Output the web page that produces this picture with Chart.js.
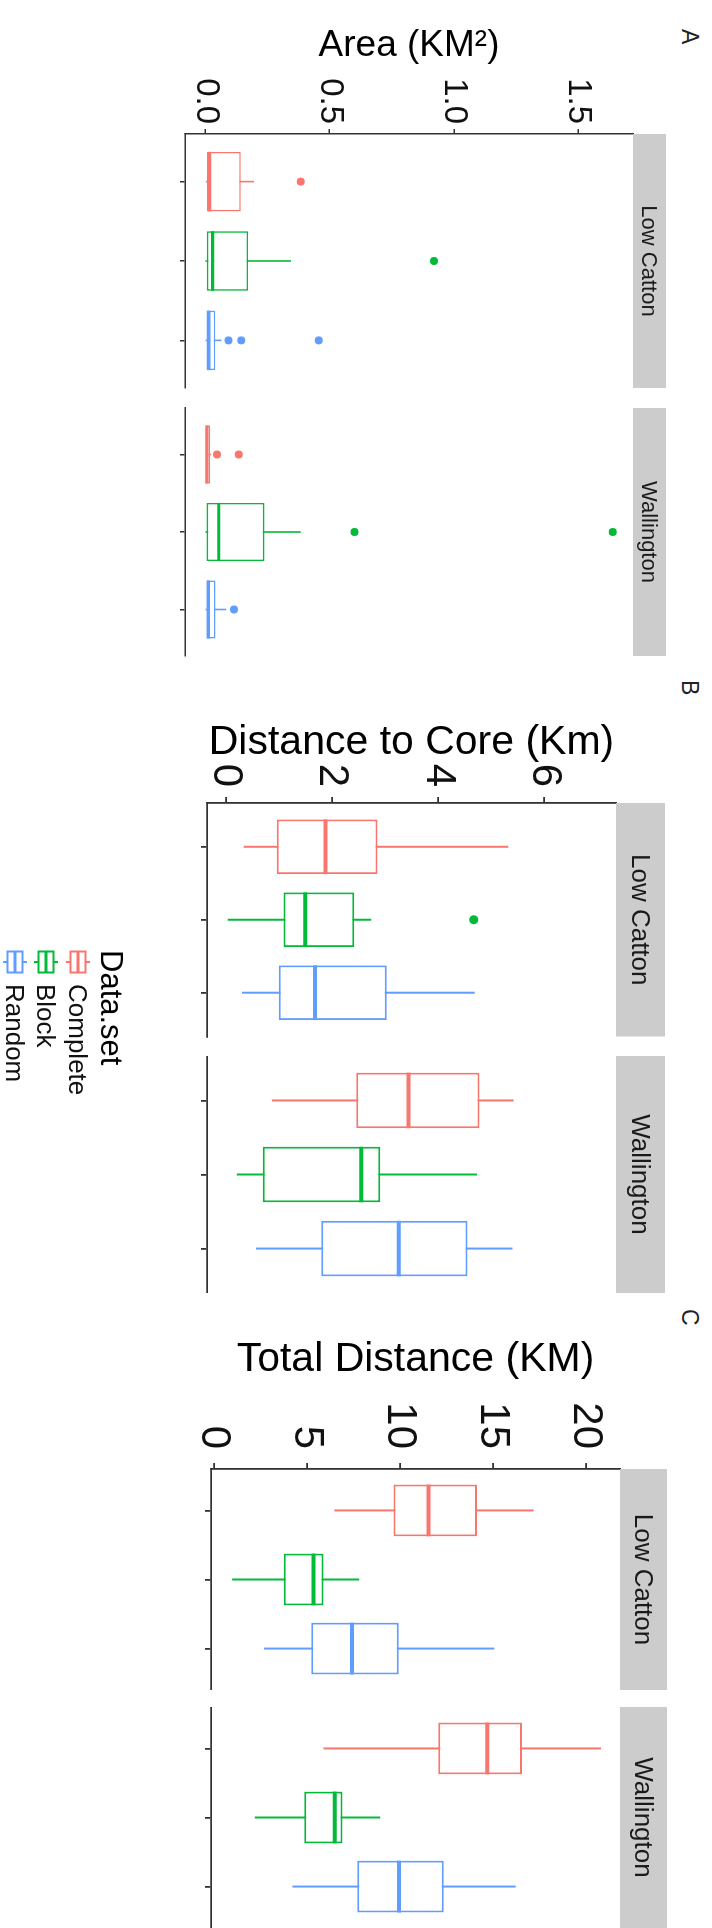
<!DOCTYPE html>
<html>
<head>
<meta charset="utf-8">
<script src="https://cdn.jsdelivr.net/npm/chart.js@4.4.0/dist/chart.umd.min.js"></script>
<style>
  html, body { margin: 0; padding: 0; background: #fff; overflow: hidden; }
  body { width: 712px; height: 1928px; position: relative; }
  /* the figure is laid out the usual way and then turned a quarter clockwise */
  #figure {
    position: absolute; left: 0; top: 0; width: 1928px; height: 712px;
    transform-origin: 0 0; transform: translate(712px, 0) rotate(90deg);
    font-family: 'Liberation Sans', Arial, sans-serif; background: #fff;
  }
  #figure canvas.plot { position: absolute; top: 0; }
  .tag { position: absolute; top: 11px; font-size: 23px; line-height: 1; color: #222; }
  .legend-title { position: absolute; left: 950px; top: 585px; font-size: 31px; line-height: 1; color: #000; }
  .legend-row { position: absolute; left: 948px; height: 32px; display: flex; align-items: center; }
  .legend-row span { font-size: 26px; line-height: 32px; color: #111; margin-left: 8px; white-space: nowrap; }
  .legend-row canvas { display: block; }
</style>
</head>
<body>
<div id="figure"></div>
<script>
const groups = ['Complete', 'Block', 'Random'];
const sites = ['Low Catton', 'Wallington'];
const colours = ['#F8766D', '#00BA38', '#619CFF'];

// Area (KM²): one row per site, one column per data set
const areaLow      = [[0.001, 0.000, 0.000], [0.000, 0.000, 0.000]];
const areaQ1       = [[0.006, 0.005, 0.004], [0.001, 0.004, 0.004]];
const areaMedian   = [[0.016, 0.028, 0.013], [0.005, 0.053, 0.011]];
const areaQ3       = [[0.142, 0.171, 0.039], [0.018, 0.237, 0.040]];
const areaHigh     = [[0.195, 0.344, 0.064], [0.022, 0.383, 0.083]];
const areaOutliers = [[[0.383], [0.92], [0.092, 0.144, 0.456]], [[0.046, 0.134], [0.60, 1.64], [0.114]]];
const areaRange = [-0.083, 1.722];
const areaTicks = [0, 0.5, 1.0, 1.5];
const areaTickLabels = ['0.0', '0.5', '1.0', '1.5'];

// Distance to core (Km)
const coreLow      = [[0.34, 0.04, 0.31], [0.87, 0.21, 0.57]];
const coreQ1       = [[0.96, 1.09, 1.00], [2.46, 0.70, 1.80]];
const coreMedian   = [[1.88, 1.50, 1.68], [3.44, 2.55, 3.26]];
const coreQ3       = [[2.86, 2.42, 3.03], [4.78, 2.91, 4.55]];
const coreHigh     = [[5.32, 2.74, 4.69], [5.42, 4.73, 5.40]];
const coreOutliers = [[[], [4.67], []], [[], [], []]];
const coreRange = [-0.351, 7.347];
const coreTicks = [0, 2, 4, 6];
const coreTickLabels = ['0', '2', '4', '6'];

// Total distance (KM)
const totalLow      = [[6.47, 0.98, 2.69], [5.89, 2.20, 4.22]];
const totalQ1       = [[9.65, 3.76, 5.23], [12.06, 4.86, 7.70]];
const totalMedian   = [[11.53, 5.35, 7.42], [14.70, 6.50, 9.95]];
const totalQ3       = [[14.14, 5.89, 9.94], [16.56, 6.91, 12.35]];
const totalHigh     = [[17.19, 7.81, 15.07], [20.81, 8.94, 16.22]];
const totalOutliers = [[[], [], []], [[], [], []]];
const totalRange = [-0.156, 21.83];
const totalTicks = [0, 5, 10, 15, 20];
const totalTickLabels = ['0', '5', '10', '15', '20'];

Chart.defaults.font.family = "'Liberation Sans', Arial, sans-serif";

const panels = [
  { tag: 'A', tagLeft: 29, title: 'Area (KM²)', titleSize: 37, titlePad: 24, tickSize: 33, tickPad: 5, tick: 5,
    stripSize: 22, stripH: 33, top: 79, bottom: 527, lw: 1.6, axisW: 1.5, dot: 4,
    facets: [{ left: 0, width: 392, axis: 134 }, { left: 404, width: 256, axis: 0 }],
    low: areaLow, q1: areaQ1, median: areaMedian, q3: areaQ3, high: areaHigh, outliers: areaOutliers,
    range: areaRange, ticks: areaTicks, labels: areaTickLabels },
  { tag: 'B', tagLeft: 680, title: 'Distance to Core (Km)', titleSize: 41, titlePad: 18, tickSize: 42, tickPad: 10, tick: 6,
    stripSize: 26, stripH: 49, top: 96, bottom: 505, lw: 2, axisW: 1.8, dot: 4.5,
    facets: [{ left: 700, width: 341, axis: 103 }, { left: 1056, width: 237, axis: 0 }],
    low: coreLow, q1: coreQ1, median: coreMedian, q3: coreQ3, high: coreHigh, outliers: coreOutliers,
    range: coreRange, ticks: coreTicks, labels: coreTickLabels },
  { tag: 'C', tagLeft: 1309, title: 'Total Distance (KM)', titleSize: 41, titlePad: 15, tickSize: 42, tickPad: 14, tick: 6,
    stripSize: 26, stripH: 47, top: 92, bottom: 501, lw: 2, axisW: 1.8, dot: 4.5,
    facets: [{ left: 1320, width: 370, axis: 149 }, { left: 1707, width: 221, axis: 0 }],
    low: totalLow, q1: totalQ1, median: totalMedian, q3: totalQ3, high: totalHigh, outliers: totalOutliers,
    range: totalRange, ticks: totalTicks, labels: totalTickLabels }
];

const figure = document.getElementById('figure');
const H = 712;
const xAxisH = 12;

// grey facet strip above each panel
const stripPlugin = {
  id: 'strip',
  afterDraw(chart, args, opts) {
    const { ctx, chartArea: a } = chart;
    ctx.save();
    ctx.fillStyle = '#cccccc';
    ctx.fillRect(a.left, a.top - opts.h, a.right - a.left, opts.h);
    ctx.fillStyle = '#1a1a1a';
    ctx.font = opts.size + "px 'Liberation Sans', Arial, sans-serif";
    ctx.textAlign = 'center';
    ctx.textBaseline = 'middle';
    ctx.fillText(opts.text, (a.left + a.right) / 2, a.top - opts.h / 2 + 1);
    ctx.restore();
  }
};

function facetDatasets(p, s) {
  const ds = [];
  groups.forEach((g, i) => {
    ds.push({
      type: 'line', order: 4,
      data: [{ x: i + 1, y: p.low[s][i] }, { x: i + 1, y: p.high[s][i] }],
      borderColor: colours[i], borderWidth: p.lw, pointRadius: 0, fill: false
    });
  });
  ds.push({
    type: 'bar', order: 3,
    data: groups.map((g, i) => ({ x: i + 1, y: [p.q1[s][i], p.q3[s][i]] })),
    backgroundColor: '#ffffff', borderColor: colours, borderWidth: p.lw,
    borderSkipped: false, barPercentage: 0.75, categoryPercentage: 1
  });
  groups.forEach((g, i) => {
    ds.push({
      type: 'line', order: 2,
      data: [{ x: i + 1 - 0.375, y: p.median[s][i] }, { x: i + 1 + 0.375, y: p.median[s][i] }],
      borderColor: colours[i], borderWidth: p.lw * 2, pointRadius: 0, fill: false
    });
  });
  const pts = [], ptCols = [];
  groups.forEach((g, i) => {
    p.outliers[s][i].forEach(v => { pts.push({ x: i + 1, y: v }); ptCols.push(colours[i]); });
  });
  ds.push({
    type: 'scatter', order: 1, data: pts,
    pointBackgroundColor: ptCols, pointBorderColor: ptCols, pointBorderWidth: 0, pointRadius: p.dot
  });
  return ds;
}

panels.forEach(p => {
  const tag = document.createElement('div');
  tag.className = 'tag';
  tag.style.left = p.tagLeft + 'px';
  tag.textContent = p.tag;
  figure.appendChild(tag);

  p.facets.forEach((f, s) => {
    const canvas = document.createElement('canvas');
    canvas.className = 'plot';
    canvas.width = f.width;
    canvas.height = H;
    canvas.style.left = f.left + 'px';
    figure.appendChild(canvas);

    const showAxis = f.axis > 0;
    new Chart(canvas, {
      type: 'bar',
      data: { datasets: facetDatasets(p, s) },
      options: {
        responsive: false,
        animation: false,
        events: [],
        layout: { padding: { top: p.top, bottom: H - p.bottom - xAxisH, left: 0, right: 0 } },
        plugins: {
          legend: { display: false },
          tooltip: { enabled: false },
          strip: { h: p.stripH, size: p.stripSize, text: sites[s] }
        },
        scales: {
          x: {
            type: 'linear', min: 0.4, max: 3.6, offset: false,
            afterBuildTicks: sc => { sc.ticks = groups.map((g, i) => ({ value: i + 1 })); },
            afterFit: sc => { sc.height = xAxisH; },
            ticks: { display: false },
            grid: { offset: false, drawOnChartArea: false, drawTicks: true, tickLength: p.tick, color: '#333', lineWidth: p.axisW },
            border: { display: true, color: '#333', width: p.axisW }
          },
          y: {
            type: 'linear', display: showAxis, min: p.range[0], max: p.range[1],
            afterBuildTicks: sc => { sc.ticks = p.ticks.map(v => ({ value: v })); },
            afterFit: sc => { sc.width = f.axis; },
            ticks: {
              padding: p.tickPad, color: '#111', font: { size: p.tickSize },
              callback: v => p.labels[p.ticks.indexOf(v)]
            },
            grid: { drawOnChartArea: false, drawTicks: true, tickLength: p.tick, color: '#333', lineWidth: p.axisW },
            border: { display: true, color: '#333', width: p.axisW },
            title: { display: true, text: p.title, color: '#000', font: { size: p.titleSize }, padding: { top: p.titlePad, bottom: 0 } }
          }
        }
      },
      plugins: [stripPlugin]
    });
  });
});

// legend for the data sets (sits under panel B)
const legendTitle = document.createElement('div');
legendTitle.className = 'legend-title';
legendTitle.textContent = 'Data.set';
figure.appendChild(legendTitle);

const legendCentres = [634, 666, 697];
groups.forEach((g, i) => {
  const row = document.createElement('div');
  row.className = 'legend-row';
  row.style.top = (legendCentres[i] - 16) + 'px';
  const icon = document.createElement('canvas');
  icon.width = 28; icon.height = 30;
  const c = icon.getContext('2d');
  c.strokeStyle = colours[i];
  c.lineWidth = 2;
  c.beginPath(); c.moveTo(14, 3); c.lineTo(14, 27); c.stroke();
  c.fillStyle = '#fff';
  c.fillRect(3.5, 7.5, 21, 15);
  c.strokeRect(3.5, 7.5, 21, 15);
  c.lineWidth = 3;
  c.beginPath(); c.moveTo(3.5, 15); c.lineTo(24.5, 15); c.stroke();
  const label = document.createElement('span');
  label.textContent = g;
  row.appendChild(icon);
  row.appendChild(label);
  figure.appendChild(row);
});
</script>
</body>
</html>
